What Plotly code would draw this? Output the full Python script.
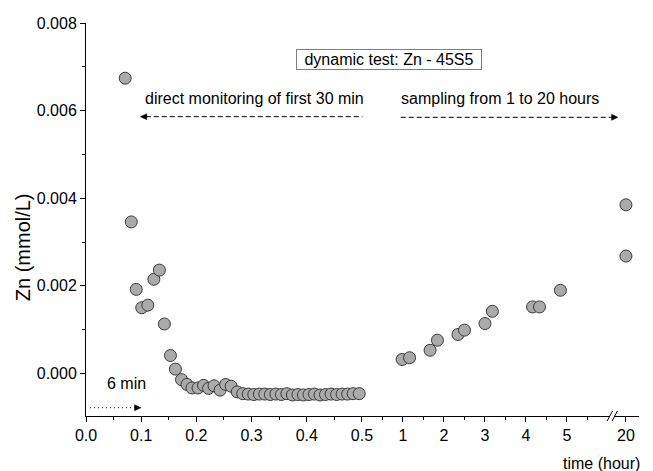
import plotly.graph_objects as go

# ---- data (Zn in mmol/L, time in hours) ----
t_first = [0.071, 0.082, 0.091, 0.101, 0.112, 0.123, 0.133, 0.142, 0.153, 0.162,
           0.173, 0.183, 0.192, 0.203, 0.213, 0.222, 0.232, 0.243, 0.253, 0.263,
           0.274, 0.284, 0.294, 0.304, 0.314, 0.324, 0.334, 0.344, 0.354, 0.364,
           0.374, 0.384, 0.394, 0.404, 0.414, 0.424, 0.434, 0.444, 0.454, 0.464,
           0.474, 0.484, 0.495]
zn_first = [6.74, 3.46, 1.92, 1.50, 1.56, 2.15, 2.36, 1.13, 0.41, 0.10,
            -0.14, -0.25, -0.33, -0.33, -0.27, -0.34, -0.28, -0.38, -0.25, -0.29,
            -0.42, -0.46, -0.47, -0.48, -0.47, -0.47, -0.48, -0.47, -0.48, -0.46,
            -0.49, -0.48, -0.49, -0.48, -0.47, -0.49, -0.48, -0.47, -0.48, -0.47,
            -0.47, -0.46, -0.46]
zn_first = [v * 1e-3 for v in zn_first]

t_hours = [0.98, 1.16, 1.66, 1.84, 2.34, 2.50, 3.00, 3.18, 4.16, 4.33, 4.84]
zn_hours = [0.32, 0.36, 0.53, 0.76, 0.89, 0.99, 1.14, 1.42, 1.52, 1.52, 1.90]
zn_hours = [v * 1e-3 for v in zn_hours]

t_late = [20, 20]
zn_late = [2.68e-3, 3.85e-3]

x1_ticks = [0.0, 0.1, 0.2, 0.3, 0.4, 0.5]
x2_ticks = [1, 2, 3, 4, 5]
x2_minor = [0.5, 1.5, 2.5, 3.5, 4.5, 5.5]
x3_ticks = [20]
y_ticks = [0.000, 0.002, 0.004, 0.006, 0.008]

# ---- layout geometry (pixels) ----
W, H = 653, 471
ML, MR, MT, MB = 86, 3, 23, 55
PW = W - ML - MR
PH = H - MT - MB


def px(x):
    return (x - ML) / PW


def py(y):
    return (H - MB - y) / PH


d1 = px(367.5)
d2 = px(621.7)

FONT = "Arial, 'Liberation Sans', sans-serif"
FS = 16
marker = dict(size=12, color="#aaaaaa", line=dict(color="#3a3a3a", width=1))

fig = go.Figure()
fig.add_trace(go.Scatter(x=t_first, y=zn_first, mode="markers", marker=marker,
                         xaxis="x", yaxis="y", showlegend=False, cliponaxis=False))
fig.add_trace(go.Scatter(x=t_hours, y=zn_hours, mode="markers", marker=marker,
                         xaxis="x2", yaxis="y", showlegend=False, cliponaxis=False))
fig.add_trace(go.Scatter(x=t_late, y=zn_late, mode="markers", marker=marker,
                         xaxis="x3", yaxis="y", showlegend=False, cliponaxis=False))

axis_common = dict(showline=True, linecolor="black", linewidth=1, showgrid=False,
                   zeroline=False, ticks="outside", ticklen=5, tickcolor="black",
                   tickfont=dict(family=FONT, size=FS, color="black"), anchor="y")

fig.update_layout(
    width=W, height=H,
    margin=dict(l=ML, r=MR, t=MT, b=MB),
    paper_bgcolor="white", plot_bgcolor="white",
    font=dict(family=FONT, size=FS, color="black"),
    xaxis=dict(domain=[0, d1], range=[0, 0.5001], tickvals=x1_ticks,
               tickformat=".1f",
               minor=dict(dtick=0.05, ticks="outside", ticklen=3, tickcolor="black"),
               **axis_common),
    xaxis2=dict(domain=[d1, d2], range=[0, 6.08], tickvals=x2_ticks,
                minor=dict(tickvals=x2_minor, ticks="outside", ticklen=3, tickcolor="black"),
                **axis_common),
    xaxis3=dict(domain=[d2, 1], range=[19.64, 20.32], tickvals=x3_ticks,
                **axis_common),
    yaxis=dict(domain=[0, 1], range=[-0.00097, 0.008], tickvals=y_ticks,
               tickformat=".3f", showline=True, linecolor="black", linewidth=1,
               showgrid=False, zeroline=False, ticks="outside", ticklen=5,
               tickcolor="black", tickfont=dict(family=FONT, size=FS, color="black"),
               minor=dict(dtick=0.001, ticks="outside", ticklen=3, tickcolor="black")),
)

shapes = []
line_style = dict(color="black", width=1)
# left dashed arrow (first 30 min)
shapes.append(dict(type="line", xref="paper", yref="paper",
                   x0=px(147), x1=px(368), y0=py(116.7), y1=py(116.7),
                   line=dict(color="black", width=1, dash="5px,3px")))
shapes.append(dict(type="path", xref="paper", yref="paper",
                   path=f"M {px(141.5)} {py(116.7)} L {px(148)} {py(113.7)} L {px(148)} {py(119.7)} Z",
                   fillcolor="black", line=dict(color="black", width=0.5)))
# right dashed arrow (1 to 20 h)
shapes.append(dict(type="line", xref="paper", yref="paper",
                   x0=px(407), x1=px(622), y0=py(117.3), y1=py(117.3),
                   line=dict(color="black", width=1, dash="5px,3px")))
shapes.append(dict(type="path", xref="paper", yref="paper",
                   path=f"M {px(628.5)} {py(117.3)} L {px(622)} {py(114.3)} L {px(622)} {py(120.3)} Z",
                   fillcolor="black", line=dict(color="black", width=0.5)))
# dotted arrow (6 min)
shapes.append(dict(type="line", xref="paper", yref="paper",
                   x0=px(90), x1=px(136), y0=py(407.7), y1=py(407.7),
                   line=dict(color="black", width=1, dash="1px,3px")))
shapes.append(dict(type="path", xref="paper", yref="paper",
                   path=f"M {px(142)} {py(407.7)} L {px(135.5)} {py(404.7)} L {px(135.5)} {py(410.7)} Z",
                   fillcolor="black", line=dict(color="black", width=0.5)))
# axis break marks
shapes.append(dict(type="rect", xref="paper", yref="paper",
                   x0=px(620.3), x1=px(625.3), y0=py(418), y1=py(414.5),
                   fillcolor="white", line=dict(width=0), layer="above"))
shapes.append(dict(type="line", xref="paper", yref="paper",
                   x0=px(617.5), x1=px(623), y0=py(421), y1=py(411),
                   line=line_style))
shapes.append(dict(type="line", xref="paper", yref="paper",
                   x0=px(622.5), x1=px(628), y0=py(421), y1=py(411),
                   line=line_style))
fig.update_layout(shapes=shapes)

tf = dict(family=FONT, size=FS, color="black")
ann = []
ann.append(dict(text="dynamic test: Zn - 45S5", xref="paper", yref="paper",
                x=px(395), y=py(59.7), xanchor="center", yanchor="middle",
                showarrow=False, bordercolor="#808080", borderwidth=1, borderpad=1,
                width=182, height=17, bgcolor="white", font=tf))
ann.append(dict(text="direct monitoring of first 30 min", xref="paper", yref="paper",
                x=px(258.3), y=py(99), xanchor="center", yanchor="middle",
                showarrow=False, font=tf))
ann.append(dict(text="sampling from 1 to 20 hours", xref="paper", yref="paper",
                x=px(508), y=py(98.3), xanchor="center", yanchor="middle",
                showarrow=False, font=tf))
ann.append(dict(text="6 min", xref="paper", yref="paper",
                x=px(127.5), y=py(383.3), xanchor="center", yanchor="middle",
                showarrow=False, font=tf))
ann.append(dict(text="time (hour)", xref="paper", yref="paper",
                x=px(653), y=py(463), xanchor="right", yanchor="middle",
                showarrow=False, font=tf))
ann.append(dict(text="Zn (mmol/L)", xref="paper", yref="paper",
                x=px(22), y=py(247), xanchor="center", yanchor="middle",
                textangle=-90, showarrow=False,
                font=dict(family=FONT, size=20, color="black")))
fig.update_layout(annotations=ann)

fig.write_html("out.html")
